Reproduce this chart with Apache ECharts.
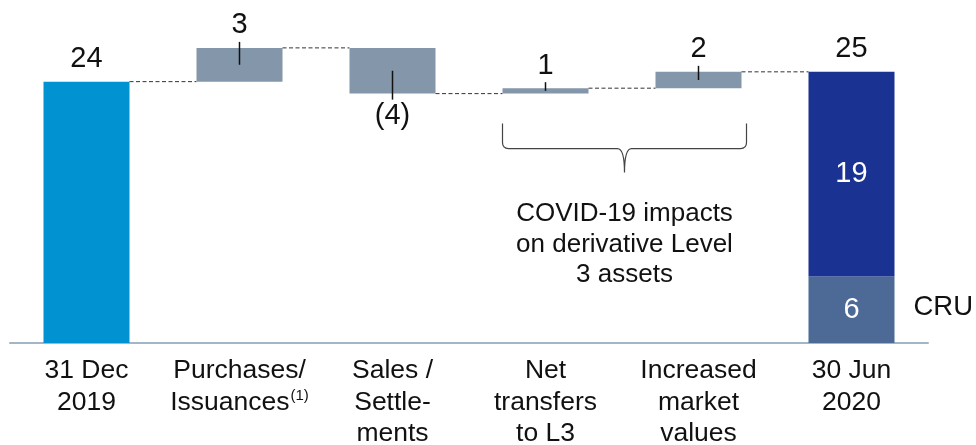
<!DOCTYPE html>
<html>
<head>
<meta charset="utf-8">
<script src="https://cdn.jsdelivr.net/npm/echarts@6/dist/echarts.min.js"></script>
<style>
  html, body { margin: 0; padding: 0; background: #fff; }
  #chart { width: 976px; height: 445px; }
</style>
</head>
<body>
<div id="chart"></div>
<script>
// Derivative Level 3 assets bridge, 31 Dec 2019 -> 30 Jun 2020 (bn)
const categories = [
  '31 Dec\n2019',
  'Purchases/\nIssuances{sup|(1)}',
  'Sales /\nSettle-\nments',
  'Net\ntransfers\nto L3',
  'Increased\nmarket\nvalues',
  '30 Jun\n2020'
];
const openingBalance = 24.0;
const movements = [3.1, -4.2, 0.5, 1.5];
const closingCRU = 6.1;
const closingCore = 18.8;
const bracketSpan = [3, 4];
const bracketText = 'COVID-19 impacts\non derivative Level\n3 assets';
const cruTag = 'CRU';

const FONT = '"Liberation Sans", Arial, sans-serif';
const BAR_W = 86;
const LABEL_GAP = 22.5;
const INK = '#111111';
const COL_OPEN = '#0092d1';
const COL_MOVE = '#8396aa';
const COL_CORE = '#1a3393';
const COL_CRU = '#4d6a97';

const n = categories.length;
const closingTotal = closingCRU + closingCore;

// rows: [categoryIndex, from, to, isMovement]
const bridgeRows = [[0, 0, openingBalance, 0]];
let level = openingBalance;
movements.forEach(function (m, k) {
  bridgeRows.push([k + 1, level, level + m, 1]);
  level += m;
});
bridgeRows.push([n - 1, 0, closingTotal, 0]);

const pad = (arr, idx, v) => arr.map((_, i) => (i === idx ? v : '-'));

function renderBridge(params, api) {
  const idx = api.value(0);
  const from = api.value(1);
  const to = api.value(2);
  const isMove = api.value(3) === 1;
  const half = BAR_W / 2;
  const pFrom = api.coord([idx, from]);
  const pTo = api.coord([idx, to]);
  const cx = pFrom[0];
  const children = [];
  const textStyle = (txt, x, y) => ({
    type: 'text',
    style: {
      text: txt, x: x, y: y,
      textAlign: 'center', textVerticalAlign: 'middle',
      align: 'center', verticalAlign: 'middle',
      fill: INK, font: '29px ' + FONT
    }
  });
  if (isMove) {
    const yTop = Math.min(pFrom[1], pTo[1]);
    const yBot = Math.max(pFrom[1], pTo[1]);
    const yMid = (yTop + yBot) / 2;
    children.push({
      type: 'rect',
      shape: { x: cx - half, y: yTop, width: BAR_W, height: yBot - yTop },
      style: { fill: COL_MOVE }
    });
    const delta = to - from;
    if (delta >= 0) {
      children.push({
        type: 'line',
        shape: { x1: cx, y1: yTop - 6, x2: cx, y2: yMid },
        style: { stroke: INK, lineWidth: 1.5 }
      });
      children.push(textStyle(String(Math.round(delta)), cx, yTop - LABEL_GAP));
    } else {
      children.push({
        type: 'line',
        shape: { x1: cx, y1: yBot + 6, x2: cx, y2: yMid },
        style: { stroke: INK, lineWidth: 1.5 }
      });
      children.push(textStyle('(' + Math.round(-delta) + ')', cx, yBot + LABEL_GAP));
    }
  } else {
    children.push(textStyle(String(Math.round(to)), cx, pTo[1] - LABEL_GAP));
  }
  // dashed connector to the next column
  if (idx < n - 1) {
    const nextX = api.coord([idx + 1, to])[0];
    children.push({
      type: 'line',
      shape: { x1: cx + half, y1: pTo[1], x2: nextX - half, y2: pTo[1] },
      style: { stroke: '#333', lineWidth: 1, lineDash: [4, 2.5] }
    });
  }
  return { type: 'group', children: children };
}

function renderBracket(params, api) {
  const i0 = api.value(0);
  const i1 = api.value(1);
  const low = api.value(2);
  const half = BAR_W / 2;
  const L = api.coord([i0, low])[0] - half;
  const R = api.coord([i1, low])[0] + half + 5;
  const top = api.coord([i0, low])[1] + 30;
  const mid = top + 25;
  const tip = top + 49;
  const C = (L + R) / 2;
  const d = [
    'M', L, top, 'L', L, mid - 6,
    'Q', L, mid, L + 6, mid,
    'L', C - 7, mid,
    'Q', C, mid, C, tip,
    'Q', C, mid, C + 7, mid,
    'L', R - 6, mid,
    'Q', R, mid, R, mid - 6,
    'L', R, top
  ].join(' ');
  return {
    type: 'group',
    children: [
      {
        type: 'path',
        shape: { pathData: d },
        style: { stroke: '#444', lineWidth: 1.2, fill: null }
      },
      {
        type: 'text',
        style: {
          text: bracketText, x: C, y: tip + 26,
          textAlign: 'center', textVerticalAlign: 'top',
          align: 'center', verticalAlign: 'top',
          fill: INK, font: '26px ' + FONT, lineHeight: 30.5
        }
      }
    ]
  };
}

function renderTag(params, api) {
  const p = api.coord([api.value(0), api.value(1) / 2]);
  return {
    type: 'text',
    style: {
      text: cruTag, x: p[0] + BAR_W / 2 + 19, y: p[1] - 2,
      textAlign: 'left', textVerticalAlign: 'middle',
      align: 'left', verticalAlign: 'middle',
      fill: INK, font: '27.5px ' + FONT
    }
  };
}

const bracketLow = Math.min.apply(null, bridgeRows.filter(r => r[0] >= bracketSpan[0] && r[0] <= bracketSpan[1]).map(r => Math.min(r[1], r[2])));

const chart = echarts.init(document.getElementById('chart'));
chart.setOption({
  animation: false,
  backgroundColor: '#ffffff',
  grid: { left: 10, right: 48, top: 16.3, bottom: 102, containLabel: false, outerBoundsMode: 'none' },
  xAxis: {
    type: 'category',
    data: categories,
    axisLine: { lineStyle: { color: '#a3b6c9', width: 2 } },
    axisTick: { show: false },
    axisLabel: {
      interval: 0,
      margin: 12,
      color: INK,
      fontFamily: FONT,
      fontSize: 26.5,
      lineHeight: 31.5,
      rich: {
        sup: { fontSize: 15, fontFamily: FONT, color: INK, verticalAlign: 'top', lineHeight: 18, padding: [2, 0, 0, 1] }
      }
    }
  },
  yAxis: { type: 'value', min: 0, max: 30, show: false, splitLine: { show: false } },
  series: [
    {
      name: 'Opening',
      type: 'bar',
      stack: 'balance',
      barWidth: BAR_W,
      data: pad(categories, 0, openingBalance),
      itemStyle: { color: COL_OPEN }
    },
    {
      name: 'CRU',
      type: 'bar',
      stack: 'balance',
      barWidth: BAR_W,
      data: pad(categories, n - 1, closingCRU),
      itemStyle: { color: COL_CRU },
      label: {
        show: true, position: 'inside', color: '#fff', fontFamily: FONT, fontSize: 29,
        formatter: p => String(Math.round(p.value))
      }
    },
    {
      name: 'Core',
      type: 'bar',
      stack: 'balance',
      barWidth: BAR_W,
      data: pad(categories, n - 1, closingCore),
      itemStyle: { color: COL_CORE },
      label: {
        show: true, position: 'inside', color: '#fff', fontFamily: FONT, fontSize: 29,
        formatter: p => String(Math.round(p.value))
      }
    },
    {
      name: 'Bridge',
      type: 'custom',
      renderItem: renderBridge,
      data: bridgeRows,
      z: 5
    },
    {
      name: 'Bracket',
      type: 'custom',
      renderItem: renderBracket,
      data: [[bracketSpan[0], bracketSpan[1], bracketLow]],
      z: 5
    },
    {
      name: 'Tag',
      type: 'custom',
      renderItem: renderTag,
      data: [[n - 1, closingCRU]],
      z: 5
    }
  ]
});
</script>
</body>
</html>
